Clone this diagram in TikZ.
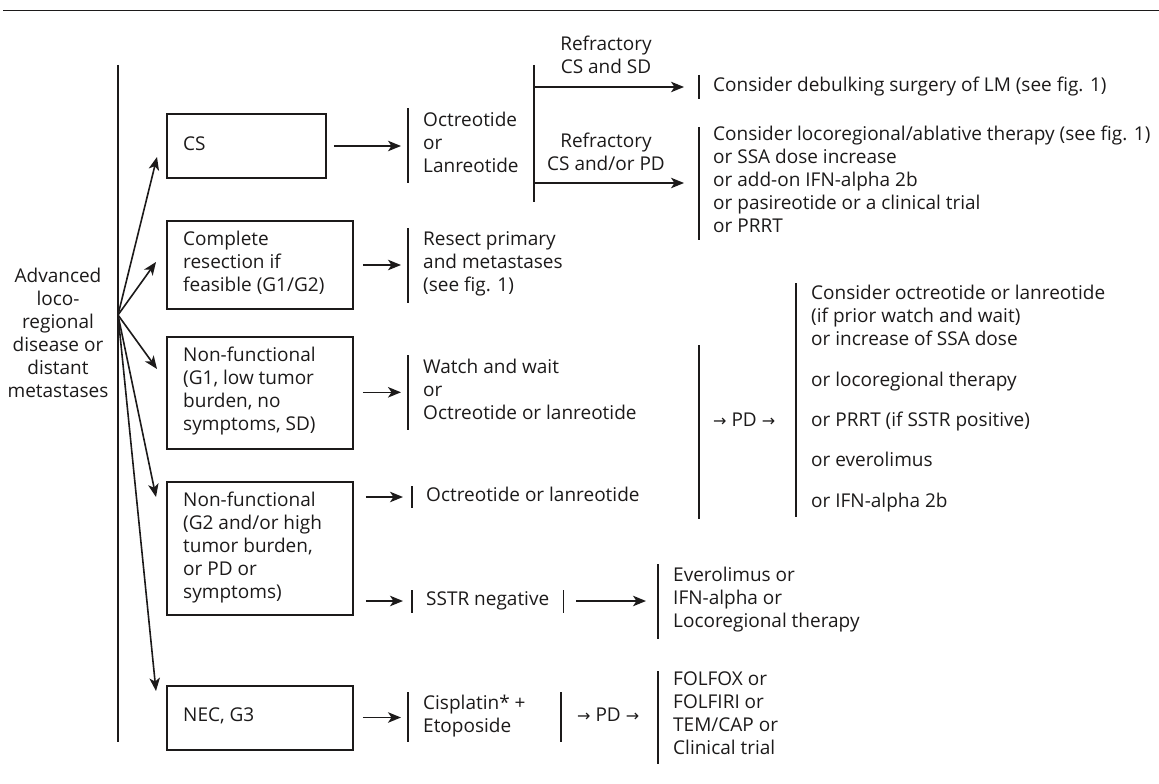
\documentclass[tikz,border=0pt]{standalone}
\usepackage{fontspec}
\setmainfont{Open Sans}
\newfontfamily\arrfont{DejaVu Sans}
\usetikzlibrary{arrows.meta,calc}
\definecolor{ink}{RGB}{28,26,26}
\newcommand{\rarr}{{\arrfont\fontsize{16bp}{16bp}\selectfont\raisebox{0bp}{→}}}
\begin{document}
\begin{tikzpicture}[x=1bp,y=-1bp,
  font=\fontsize{19bp}{23bp}\selectfont,
  ln/.style={draw=ink, line width=1.6bp},
  arr/.style={ln, -{Stealth[length=13bp,width=10.5bp,inset=3.5bp]}},
  box/.style={draw=ink, line width=1.6bp, inner sep=0pt},
  txt/.style={inner sep=0pt, align=left, text=ink,
    execute at begin node=\strut, execute at end node=\strut},
  bt/.style={txt, anchor=west, inner xsep=15bp},
]
\useasboundingbox (0,0) rectangle (1159,784);
% top rule
\coordinate (r0) at (3,10.5);
\coordinate (r1) at (1159,10.5);
\draw[ln, line width=1.8bp] (r0) -- (r1);

% left label and main line
\node[txt, align=center] (adv) at (58,336) {Advanced\\loco-\\regional\\disease or\\distant\\metastases};
\coordinate (mt) at (118,65);
\coordinate (mb) at (118,742);
\draw[ln] (mt) -- (mb);

% boxes
\node[box, minimum width=159bp, minimum height=64bp] (cs) at (246.5,146) {};
\node[txt, anchor=west] (cst) at (183,146) {CS};
\node[box, minimum width=186bp, minimum height=88bp] (comp) at (260,265) {};
\node[txt, anchor=west] (compt) at (183,264.7) {Complete\\resection if\\feasible (G1/G2)};
\node[box, minimum width=186bp, minimum height=112bp] (nf1) at (260,393) {};
\node[txt, anchor=west] (nf1t) at (183,392) {Non-functional\\(G1, low tumor\\burden, no\\symptoms, SD)};
\node[box, minimum width=186bp, minimum height=133bp] (nf2) at (260,548.5) {};
\node[txt, anchor=west] (nf2t) at (183,548.6) {Non-functional\\(G2 and/or high\\tumor burden,\\or PD or\\symptoms)};
\node[box, minimum width=186bp, minimum height=64bp] (nec) at (260,718) {};
\node[txt, anchor=west] (nect) at (183,717) {NEC, G3};

% fan arrows
\coordinate (O) at (118,315);
\coordinate (t1) at (157,157);
\coordinate (t2) at (156,262);
\coordinate (t3) at (157,369);
\coordinate (t4) at (156,497);
\coordinate (t5) at (156,691);
\foreach \t in {t1,t2,t3,t4,t5} \draw[arr] (O) -- (\t);

% second column
\node[bt] (oct) at (408,145.7) {Octreotide\\or\\Lanreotide};
\node[bt] (res) at (408,265.3) {Resect primary\\and metastases\\(see fig. 1)};
\node[bt] (watch) at (408,392.3) {Watch and wait\\or\\Octreotide or lanreotide};
\node[bt, inner xsep=14bp] (o2) at (412,497) {Octreotide or lanreotide};
\node[bt, inner xsep=14bp] (sstr) at (412,601) {SSTR negative};
\node[bt] (cis) at (408,717.5) {Cisplatin*\hspace{5bp}+\\Etoposide};
\node[bt, inner xsep=16bp] (pd2) at (561,717) {\rarr{} PD \rarr};
\node[bt] (ever) at (658,601) {Everolimus or\\IFN-alpha or\\Locoregional therapy};
\node[bt] (folf) at (658,717) {FOLFOX or\\FOLFIRI or\\TEM/CAP or\\Clinical trial};

\draw[ln] (oct.west |- 0,108) -- (oct.west |- 0,183);
\draw[ln] (res.west |- 0,228) -- (res.west |- 0,303);
\draw[ln] (watch.west |- 0,355) -- (watch.west |- 0,430);
\draw[ln] (o2.west |- 0,486) -- (o2.west |- 0,508);
\draw[ln] (sstr.west |- 0,590) -- (sstr.west |- 0,613);
\draw[ln] (sstr.east |- 0,590) -- (sstr.east |- 0,613);
\draw[ln] (ever.west |- 0,564) -- (ever.west |- 0,639);
\draw[ln] (cis.west |- 0,692) -- (cis.west |- 0,742);
\draw[ln] (pd2.west |- 0,692) -- (pd2.west |- 0,742);
\draw[ln] (folf.west |- 0,671) -- (folf.west |- 0,764);

\draw[arr, shorten <=7bp, shorten >=7bp] (cs.east) -- (cs.east -| oct.west);
\draw[arr, shorten <=9bp, shorten >=7bp] (comp.east) -- (comp.east -| res.west);
\draw[arr, shorten <=9bp, shorten >=7bp] (nf1.east |- watch.west) -- (watch.west);
\draw[arr, shorten <=12bp, shorten >=9bp] (nf2.east |- o2.west) -- (o2.west);
\draw[arr, shorten <=12bp, shorten >=9bp] (nf2.east |- sstr.west) -- (sstr.west);
\draw[arr, shorten <=13bp, shorten >=12bp] (sstr.east) -- (sstr.east -| ever.west);
\draw[arr, shorten <=9bp, shorten >=7bp] (nec.east |- cis.west) -- (cis.west);

% top right
\coordinate (vt) at (534,65);
\coordinate (vb) at (534,202);
\draw[ln] (vt) -- (vb);
\node[txt, align=center] (lab1) at (606,58) {Refractory\\CS and SD};
\node[txt, align=center] (lab2) at (606,155) {Refractory\\CS and/or PD};
\node[bt, inner xsep=14bp] (deb) at (699,87) {Consider debulking surgery of LM (see fig. 1)};
\node[bt, inner xsep=14bp] (loco) at (699,183) {Consider locoregional/ablative therapy (see fig. 1)\\or SSA dose increase\\or add-on IFN-alpha 2b\\or pasireotide or a clinical trial\\or PRRT};
\draw[ln] (deb.west |- 0,75) -- (deb.west |- 0,99);
\draw[ln] (loco.west |- 0,127) -- (loco.west |- 0,240);
\draw[arr, shorten >=15bp] (vt |- deb.west) -- (deb.west);
\draw[arr, shorten >=15bp] (vt |- loco.west) -- (loco.west);

% PD block
\node[bt, inner xsep=14bp] (pd1) at (699,422) {\rarr{} PD \rarr};
\node[bt] (big) at (796,399.5) {Consider octreotide or lanreotide\\(if prior watch and wait)\\or increase of SSA dose\\[18bp]or locoregional therapy\\[17bp]or PRRT (if SSTR positive)\\[17bp]or everolimus\\[18bp]or IFN-alpha 2b};
\draw[ln] (pd1.west |- 0,345) -- (pd1.west |- 0,519);
\draw[ln] (big.west |- 0,283) -- (big.west |- 0,517);
\end{tikzpicture}
\end{document}
